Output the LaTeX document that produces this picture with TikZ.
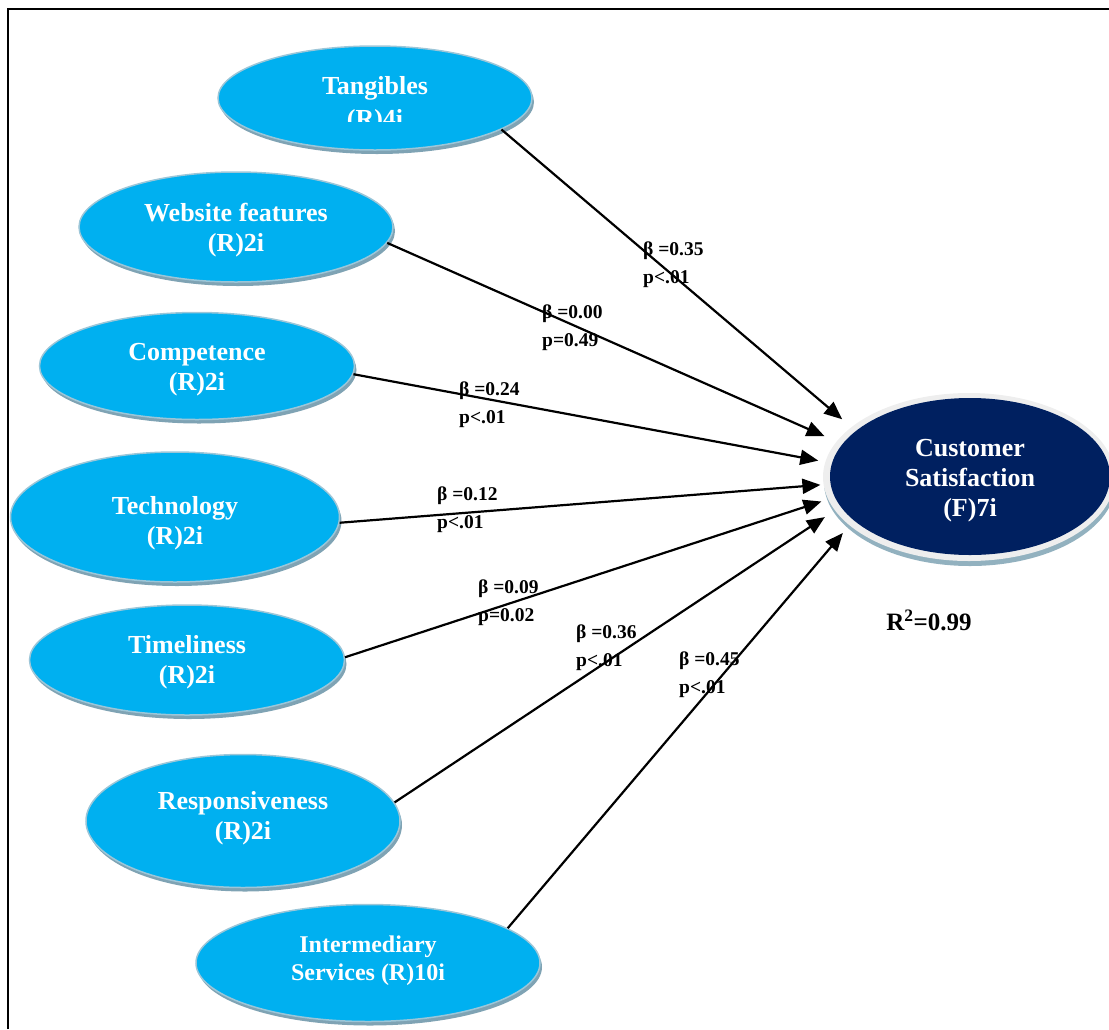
\documentclass[tikz,border=0pt]{standalone}
\usepackage{fontspec}
\setmainfont{Liberation Serif}
\usetikzlibrary{arrows.meta,shapes.geometric,shadows}
\definecolor{cyanfill}{HTML}{00B0F0}
\definecolor{cyanedge}{HTML}{9CC6D8}
\definecolor{shadowc}{HTML}{7FA3B4}
\definecolor{darkfill}{HTML}{002060}
\definecolor{rimc}{HTML}{EEEEEE}
\begin{document}
\begin{tikzpicture}[x=1pt,y=-1pt,
  construct/.style={ellipse,inner sep=0pt,fill=cyanfill,draw=cyanedge,line width=1.5pt,
    drop shadow={shadow xshift=2pt,shadow yshift=-4pt,fill=shadowc,opacity=1}},
  ctext/.style={inner sep=0pt,text=white,align=center,font=\fontsize{26}{30}\selectfont\bfseries},
  coef/.style={anchor=west,inner sep=0pt,align=left,font=\fontsize{19.5}{28}\selectfont\bfseries},
  path/.style={line width=2.2pt,-{Triangle[length=18pt,width=15pt]}}]
\useasboundingbox (0,0) rectangle (1109,1029);
\begin{scope}
\clip (0,0) rectangle (1109,1029);
% frame
\draw[line width=2.6pt] (8,1029) -- (8,9) -- (1109,9);
% outcome
\node[ellipse,inner sep=0pt,minimum width=292pt,minimum height=168pt,fill=rimc,
  drop shadow={shadow xshift=1pt,shadow yshift=-5pt,fill=shadowc!85,opacity=1}] (csout) at (969,477) {};
\node[ellipse,inner sep=0pt,minimum width=280pt,minimum height=157pt,fill=darkfill] (cs) at (970,476.5) {};
\node[ctext] (csT) at (970,481) {Customer\\Satisfaction\\(F)7i};
% predictors
\node[construct,minimum width=314pt,minimum height=104pt] (tang) at (375,98) {};
\node[ctext,anchor=base] (tangA) at (375,94) {Tangibles};
\begin{scope}
\clip (200,100) rectangle (550,121.5);
\node[ctext,anchor=base] (tangB) at (375,127) {(R)4i};
\end{scope}
\node[construct,minimum width=314pt,minimum height=110pt] (web) at (236,227) {};
\node[ctext] (webT) at (236,230) {Website features\\(R)2i};
\node[construct,minimum width=315pt,minimum height=107pt] (comp) at (197,366) {};
\node[ctext] (compT) at (197,370) {Competence\\(R)2i};
\node[construct,minimum width=329pt,minimum height=130pt] (tech) at (175,517) {};
\node[ctext] (techT) at (175,523) {Technology\\(R)2i};
\node[construct,minimum width=315pt,minimum height=110pt] (time) at (187,660) {};
\node[ctext] (timeT) at (187,662.5) {Timeliness\\(R)2i};
\node[construct,minimum width=314pt,minimum height=133pt] (resp) at (243,821) {};
\node[ctext] (respT) at (243,818) {Responsiveness\\(R)2i};
\node[construct,minimum width=344pt,minimum height=117pt] (inter) at (368,963) {};
\node[ctext,font=\fontsize{24}{28}\selectfont\bfseries] (interT) at (368,961) {Intermediary\\Services (R)10i};
% paths
\draw[path,shorten >=12pt] (tang.-14) -- (csout.157.3);
\draw[path,shorten >=13pt] (web.-6.9) -- (csout.165.9);
\draw[path,shorten >=7pt] (comp.-3.6) -- (csout.174.7);
\draw[path,shorten >=3pt] (tech.-2.4) -- (csout.183.1);
\draw[path,shorten >=7pt] (time.1.1) -- (csout.189.7);
\draw[path,shorten >=12pt] (resp.7.6) -- (csout.194.7);
\draw[path,shorten >=10pt] (inter.14) -- (csout.202.6);
% coefficients
\node[coef] (c1) at (643,264.5) {β =0.35\\p<.01};
\node[coef] (c2) at (542,328) {β =0.00\\p=0.49};
\node[coef] (c3) at (459,405) {β =0.24\\p<.01};
\node[coef] (c4) at (437,509.5) {β =0.12\\p<.01};
\node[coef] (c5) at (478,602.5) {β =0.09\\p=0.02};
\node[coef] (c6) at (576,648) {β =0.36\\p<.01};
\node[coef] (c7) at (679,675) {β =0.45\\p<.01};
\node[font=\fontsize{25}{30}\selectfont\bfseries,inner sep=0pt] (r2) at (929,620) {R\textsuperscript{2}=0.99};
\end{scope}
\end{tikzpicture}
\end{document}
